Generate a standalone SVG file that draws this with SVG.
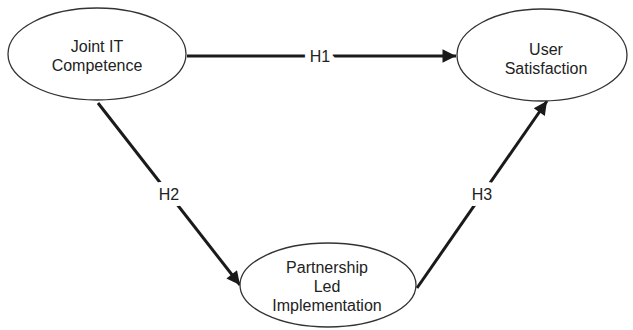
<svg xmlns="http://www.w3.org/2000/svg" width="633" height="330" viewBox="0 0 633 330">
<style>
.node ellipse{fill:#fff;stroke:#333;stroke-width:1.3}
.node text{font-family:"Liberation Sans",Arial,sans-serif;font-size:16px;fill:#222;text-anchor:middle}
.edge line{stroke:#1a1a1a;stroke-width:3;marker-end:url(#ah)}
.lbl{font-family:"Liberation Sans",Arial,sans-serif;font-size:16px;fill:#222;text-anchor:middle;stroke:#fff;stroke-width:12;paint-order:stroke;stroke-linejoin:round}
</style>
<defs>
<marker id="ah" viewBox="0 0 10 10" refX="10" refY="5" markerWidth="5.5" markerHeight="4.5" orient="auto" markerUnits="strokeWidth">
<path d="M0,0 L10,5 L0,10 z" fill="#1a1a1a"/>
</marker>
</defs>
<rect width="633" height="330" fill="#fff"/>
<g id="connectors" class="edge">
<line x1="187" y1="56" x2="456" y2="56"/>
<line x1="98" y1="103" x2="240" y2="285"/>
<line x1="417" y1="288" x2="547" y2="101"/>
<text class="lbl" x="320" y="62">H1</text>
<text class="lbl" x="169" y="200">H2</text>
<text class="lbl" x="482" y="200">H3</text>
</g>
<g id="joint-it" class="node">
<ellipse cx="97" cy="54" rx="89" ry="46"/>
<text x="97" y="52">Joint IT</text>
<text x="97" y="71">Competence</text>
</g>
<g id="user-satisfaction" class="node">
<ellipse cx="542" cy="55" rx="85" ry="46"/>
<text x="546" y="55">User</text>
<text x="546" y="74">Satisfaction</text>
</g>
<g id="partnership" class="node">
<ellipse cx="328" cy="285" rx="88" ry="42"/>
<text x="327" y="273">Partnership</text>
<text x="327" y="292">Led</text>
<text x="327" y="311">Implementation</text>
</g>
</svg>
